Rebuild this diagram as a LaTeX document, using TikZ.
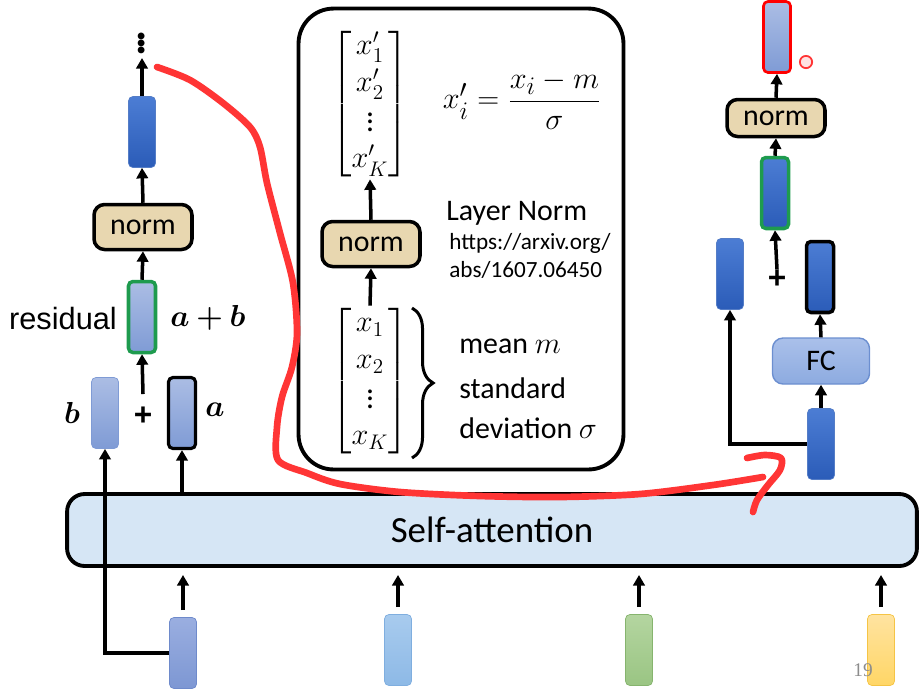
\documentclass[tikz,border=0pt]{standalone}
\usepackage{amsmath}
\usepackage{bm}
\usepackage{fontspec}
\setmainfont{Carlito}
\newfontfamily\arialfont{Liberation Sans}
\newfontfamily\timesfont{Liberation Serif}
\usepackage{tikz}
\usetikzlibrary{positioning,arrows.meta,calc,decorations.pathreplacing}

\definecolor{darktop}{HTML}{4C7DD4}
\definecolor{darkbot}{HTML}{2B5CB8}
\definecolor{lighttop}{HTML}{ABBDE4}
\definecolor{lightbot}{HTML}{7F9BD5}
\definecolor{normtan}{HTML}{E8D7B0}
\definecolor{attnblue}{HTML}{D6E6F5}
\definecolor{resgreen}{HTML}{1E9B4E}
\definecolor{penred}{HTML}{FF3535}
\definecolor{fcline}{HTML}{6C8FD0}
\definecolor{fctop}{HTML}{AAC0EA}
\definecolor{fcbot}{HTML}{8DABE0}
% input token colours
\definecolor{inAline}{HTML}{6E8ACB}
\definecolor{inAtop}{HTML}{9AAEE0}
\definecolor{inAbot}{HTML}{7D97D3}
\definecolor{inBline}{HTML}{7FAEDF}
\definecolor{inBtop}{HTML}{A8CBEE}
\definecolor{inBbot}{HTML}{8DB9E6}
\definecolor{inCline}{HTML}{86B46E}
\definecolor{inCtop}{HTML}{B4D5A0}
\definecolor{inCbot}{HTML}{9AC583}
\definecolor{inDline}{HTML}{F5C445}
\definecolor{inDtop}{HTML}{FFE3A0}
\definecolor{inDbot}{HTML}{FFD666}

\begin{document}
\begin{tikzpicture}[
  x=0.02cm, y=-0.02cm,
  bar/.style={draw, rounded corners=2.5pt, minimum width=0.54cm, minimum height=1.42cm, inner sep=0pt},
  darkbar/.style={bar, draw=darkbot!80, line width=0.4pt, top color=darktop, bottom color=darkbot},
  lightbar/.style={bar, draw=lightbot, line width=0.4pt, top color=lighttop, bottom color=lightbot},
  inbar/.style={bar, draw=in#1line, top color=in#1top, bottom color=in#1bot},
  normbox/.style={draw, line width=2pt, rounded corners=6pt, fill=normtan, minimum width=1.96cm, minimum height=0.9cm, inner sep=0pt, font=\fontsize{17}{20}\selectfont},
  arr/.style={draw, line width=2pt, -{Triangle[length=6pt,width=6.5pt]}},
  lbl/.style={font=\fontsize{17}{20}\selectfont, inner sep=0pt},
  mat/.style={inner sep=0pt, font=\fontsize{18}{21}\selectfont},
  redpen/.style={draw=penred, line width=3.8pt, line cap=round, line join=round}
]
\useasboundingbox (0,0) rectangle (919,698);

% big panel in the middle
\node[draw, line width=2.2pt, rounded corners=0.7cm, minimum width=6.5cm, minimum height=9.22cm] (panel) at (461,239) {};

% left column
\node[inner sep=0pt, font=\fontsize{26}{26}\selectfont] (dotsL) at (142,38) {$\bm{\vdots}$};
\node[darkbar] (topL) at (142,132) {};
\node[normbox] (normL) at (143,227) {norm};
\node[lightbar, draw=resgreen, line width=2pt] (resL) at (142,317) {};
\node[lightbar] (bL) at (105,413) {};
\node[lightbar, draw=black, line width=1.8pt] (aL) at (182,413) {};
\node[lbl, font=\arialfont\bfseries\fontsize{18}{20}\selectfont] (plusL) at (143,416) {+};
\coordinate (plusTop) at (143,394);
\node[lbl, font=\arialfont\fontsize{17.5}{20}\selectfont] (resTxt) at (63,318) {residual};
\node[lbl] (abTxt) at (208,318) {$\bm{a+b}$};
\node[lbl] (bTxt) at (72,413) {$\bm{b}$};
\node[lbl] (aTxt) at (215,410) {$\bm{a}$};

\draw[arr] (plusTop) -- (resL.south);
\draw[arr] (resL.north) -- (normL.south);
\draw[arr] (normL.north) -- (topL.south);
\draw[arr] (topL.north) -- (142,58);

% self-attention layer and inputs
\node[draw, line width=2.2pt, rounded corners=10pt, fill=attnblue, minimum width=17cm, minimum height=1.44cm, font=\fontsize{21}{24}\selectfont] (sa) at (492,530) {Self-attention};
\node[inbar=A] (in1) at (183,653) {};
\node[inbar=B] (in2) at (398,650) {};
\node[inbar=C] (in3) at (639,650) {};
\node[inbar=D] (in4) at (881,650) {};
\foreach \i in {1,...,4}
  \draw[arr, shorten <=4pt, shorten >=4pt] (in\i.north) -- (in\i.north |- sa.south);
\draw[arr] (in1.west) -| (bL.south);
\draw[arr] (aL.south |- sa.north) -- (aL.south);
\node[font=\timesfont\fontsize{11}{12}\selectfont, text=black!45] (pageno) at (863,670) {19};

% inside the panel
\node[mat] (xp) at (370,104) {$\begin{bmatrix} x_1' \\ x_2' \\ \vdots \\ x_K' \end{bmatrix}$};
\node[normbox] (normM) at (371,244) {norm};
\node[mat] (xm) at (370,381) {$\begin{bmatrix} x_1 \\ x_2 \\ \vdots \\ x_K \end{bmatrix}$};
\draw[arr] (xm.north) -- (normM.south);
\draw[arr] (normM.north) -- (xp.south);
\draw[line width=1.7pt, decorate, decoration={brace, amplitude=12pt}] (412,308) -- (412,458);
\node[lbl, font=\fontsize{19}{22}\selectfont] (formula) at (522,100) {$x_i' = \dfrac{x_i - m}{\sigma}$};
\node[lbl, anchor=west] (lnTxt) at (446,213) {Layer Norm};
\node[lbl, anchor=west, font=\fontsize{13.2}{15}\selectfont] (urlA) at (449,243) {https://arxiv.org/};
\node[lbl, anchor=west, font=\fontsize{13.2}{15}\selectfont] (urlB) at (449,270) {abs/1607.06450};
\node[lbl, anchor=west] (meanTxt) at (459,346) {mean $m$};
\node[lbl, anchor=west] (stdTxt) at (459,388) {standard};
\node[lbl, anchor=west] (devTxt) at (459,428) {deviation $\sigma$};

% right column
\node[lightbar, draw=red, line width=1.5pt] (outR) at (777,37) {};
\node[circle, draw=penred, line width=1pt, fill=penred!15, minimum size=7pt, inner sep=0pt] (laser) at (806,62) {};
\node[normbox, minimum height=0.74cm] (normR) at (776,118) {norm};
\node[darkbar, draw=resgreen, line width=2pt] (sumR) at (775,193) {};
\node[lbl, font=\arialfont\bfseries\fontsize{18}{20}\selectfont] (plusR) at (777,279) {+};
\node[darkbar] (leftR) at (730,274) {};
\node[darkbar, draw=black, line width=2pt] (fcR) at (820,277) {};
\node[draw=fcline, line width=0.8pt, rounded corners=6pt, top color=fctop, bottom color=fcbot, minimum width=1.94cm, minimum height=0.92cm, font=\fontsize{17}{20}\selectfont] (fc) at (821,361) {FC};
\node[darkbar] (inR) at (821,444) {};

\draw[arr] (inR.north) -- (fc.south);
\draw[arr] (fc.north) -- (fcR.south);
\draw[arr] (inR.west) -| (leftR.south);
\draw[arr] (plusR.north) -- (sumR.south);
\draw[arr] (sumR.north) -- (normR.south);
\draw[arr] (normR.north) -- (outR.south);

% red pen stroke
\draw[redpen] plot[smooth] coordinates {(157,67) (190,80) (223,103) (250,127) (260,147) (267,183) (280,233) (293,283) (297,333) (292,367) (282,397) (277,427) (278,460) (307,473) (340,484) (400,492) (480,496) (560,497) (640,494) (713,485) (763,477)};
\draw[redpen] plot[smooth] coordinates {(747,458) (765,455) (781,458) (780,470) (768,485) (757,500) (753,512)};
\end{tikzpicture}
\end{document}
